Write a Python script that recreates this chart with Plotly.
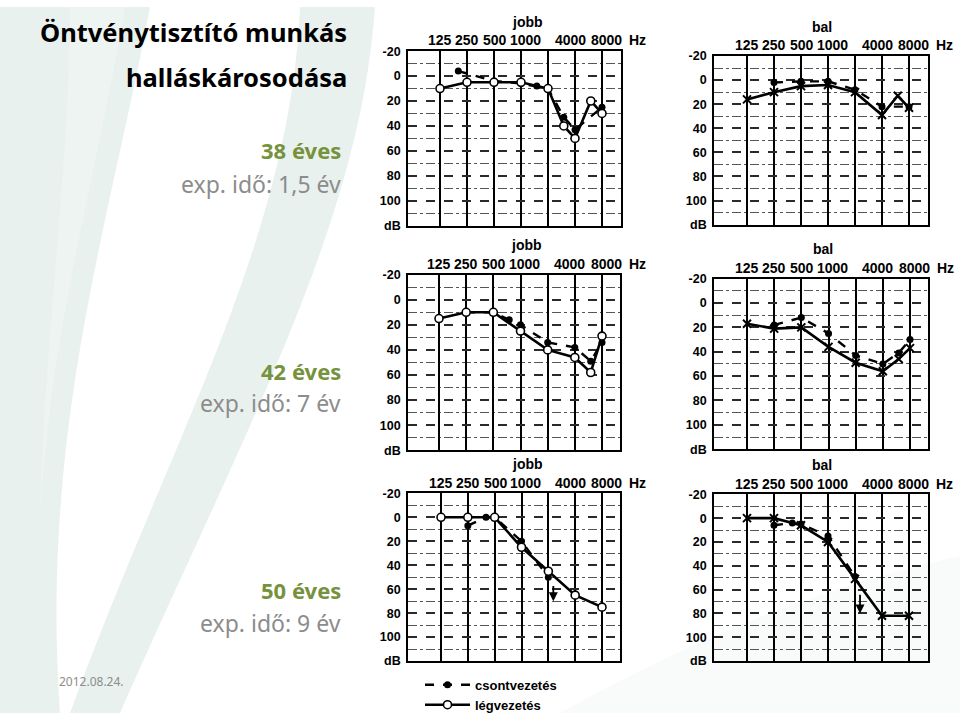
import math
import plotly.graph_objects as go

# ---------------- data ----------------
FREQ_TICKS = [125, 250, 500, 1000, 2000, 4000, 8000]
FREQ_LABELS = ["125", "250", "500", "1000", "", "4000", "8000"]
DB_TICKS = [-20, 0, 20, 40, 60, 80, 100, 120]
DB_LABELS = ["-20", "0", "20", "40", "60", "80", "100", "dB"]

# 38 éves, jobb
p1_air_f = [125, 250, 500, 1000, 2000, 3000, 4000, 6000, 8000]
p1_air_db = [10, 5, 5, 5, 10, 40, 50, 20, 30]
p1_bone_f = [200, 500, 1000, 1500, 2000, 3000, 4000, 8000]
p1_bone_db = [-4, 4, 6, 8, 10, 33, 43, 25]
# 38 éves, bal
p2_air_f = [125, 250, 500, 1000, 2000, 4000, 6000, 8000]
p2_air_db = [16, 10, 5, 4, 10, 29, 13, 23]
p2_bone_f = [250, 500, 1000, 2000, 4000, 8000]
p2_bone_db = [2, 1, 1, 8, 22, 22]
# 42 éves, jobb
p3_air_f = [125, 250, 500, 1000, 2000, 4000, 6000, 8000]
p3_air_db = [15, 10, 10, 25, 40, 46, 58, 29]
p3_bone_f = [250, 500, 750, 1000, 2000, 4000, 6000, 8000]
p3_bone_db = [10, 10, 16, 20, 34, 38, 49, 34]
# 42 éves, bal
p4_air_f = [125, 250, 500, 1000, 2000, 4000, 6000, 8000]
p4_air_db = [17, 21, 20, 36, 49, 56, 46, 37]
p4_bone_f = [250, 500, 1000, 2000, 4000, 6000, 8000]
p4_bone_db = [18, 12, 25, 43, 50, 41, 30]
# 50 éves, jobb
p5_air_f = [125, 250, 500, 1000, 2000, 4000, 8000]
p5_air_db = [0, 0, 0, 25, 45, 65, 75]
p5_bone_f = [250, 400, 500, 1000, 2000]
p5_bone_db = [7, 0, 0, 20, 50]
p5_arrow_f = 2275
p5_arrow_db = [56, 70]
# 50 éves, bal
p6_air_f = [125, 250, 500, 1000, 2000, 4000, 8000]
p6_air_db = [0, 0, 6, 20, 51, 82, 82]
p6_bone_f = [250, 400, 500, 1000, 2000]
p6_bone_db = [6, 4, 5, 15, 49]
p6_arrow_f = 2275
p6_arrow_db = [63, 80]

SIDE_TITLES = ["jobb", "bal", "jobb", "bal", "jobb", "bal"]
AGE_LABELS = ["38 éves", "42 éves", "50 éves"]
EXP_LABELS = ["exp. idő: 1,5 év", "exp. idő: 7 év", "exp. idő: 9 év"]
TITLE_LINES = ["Öntvénytisztító munkás", "halláskárosodása"]
DATE_LABEL = "2012.08.24."
LEGEND_NAMES = ["csontvezetés", "légvezetés"]

# ---------------- layout geometry (pixels) ----------------
W, H = 960, 720
# (left, right, top, bottom, px of 125 line, px of 8000 line)
PANELS = [
    (408, 621, 45, 223, 440, 602),
    (714, 928, 50, 222, 747, 909),
    (408, 620, 273, 452, 439, 602),
    (714, 928, 277, 451, 747, 910),
    (408, 620, 496, 667, 441, 602),
    (714, 928, 497, 667, 747, 909),
]
# horizontal nudge of the printed frequency labels (px), as on the scanned form
LABEL_SHIFT = [0, 0, 1, 4, 0, -5, 4]

def px_x(v):
    return v / W

def px_y(v):
    return 1 - v / H

data_sets = [
    (p1_air_f, p1_air_db, p1_bone_f, p1_bone_db),
    (p2_air_f, p2_air_db, p2_bone_f, p2_bone_db),
    (p3_air_f, p3_air_db, p3_bone_f, p3_bone_db),
    (p4_air_f, p4_air_db, p4_bone_f, p4_bone_db),
    (p5_air_f, p5_air_db, p5_bone_f, p5_bone_db),
    (p6_air_f, p6_air_db, p6_bone_f, p6_bone_db),
]

fig = go.Figure()
AXFONT = dict(family="Liberation Sans", size=12.5, color="black", weight="bold")
XFONT = dict(family="Liberation Sans", size=14, color="black", weight="bold")
layout = {}
annotations = []

for i, (pl, pr, pt, pb, c125, c8000) in enumerate(PANELS):
    n = i + 1
    xa = "x" if n == 1 else f"x{n}"
    ya = "y" if n == 1 else f"y{n}"
    air_f, air_db, bone_f, bone_db = data_sets[i]
    is_right = (i % 2 == 0)  # 'jobb' panels in left column
    ppo = (c8000 - c125) / 6.0
    lo = math.log10(125) - (c125 - pl) / ppo * math.log10(2)
    hi = math.log10(8000) + (pr - c8000) / ppo * math.log10(2)

    # bone conduction
    fig.add_trace(go.Scatter(
        x=bone_f, y=bone_db, xaxis=xa, yaxis=ya, mode="lines+markers",
        line=dict(color="black", width=2.4, dash="dash"),
        marker=dict(symbol="circle", size=7, color="black"),
        name=LEGEND_NAMES[0], showlegend=(n == 1), legendrank=1,
    ))
    # air conduction
    if is_right:
        mk = dict(symbol="circle", size=8, color="white", line=dict(color="black", width=1.6))
    else:
        mk = dict(symbol="x-thin", size=8, color="black", line=dict(color="black", width=2))
    fig.add_trace(go.Scatter(
        x=air_f, y=air_db, xaxis=xa, yaxis=ya, mode="lines+markers",
        line=dict(color="black", width=2.6),
        marker=mk,
        name=LEGEND_NAMES[1], showlegend=(n == 1), legendrank=2,
    ))

    xkey = "xaxis" if n == 1 else f"xaxis{n}"
    ykey = "yaxis" if n == 1 else f"yaxis{n}"
    layout[xkey] = dict(
        type="log", range=[lo, hi], domain=[px_x(pl), px_x(pr)], anchor=ya,
        side="top", tickvals=FREQ_TICKS, ticktext=FREQ_LABELS, showticklabels=False,
        ticks="",
        showgrid=True, gridcolor="black", gridwidth=2,
        showline=True, mirror=True, linecolor="black", linewidth=1.6,
        zeroline=False, fixedrange=True,
    )
    layout[ykey] = dict(
        range=[120, -20], domain=[px_y(pb), px_y(pt)], anchor=xa,
        tickvals=DB_TICKS, ticktext=DB_LABELS, tickfont=AXFONT,
        ticks="outside", ticklen=3, tickcolor="rgba(0,0,0,0)",
        showgrid=True, gridcolor="#2a2a2a", gridwidth=1.6, griddash="dash",
        minor=dict(tickvals=[-10, 10, 30, 50, 70, 90, 110], showgrid=True,
                   gridcolor="#555555", gridwidth=1, griddash="dashdot", ticks=""),
        showline=True, mirror=True, linecolor="black", linewidth=1.6,
        zeroline=False, fixedrange=True,
    )
    # frequency labels printed above the grid
    for f, lab, sh in zip(FREQ_TICKS, FREQ_LABELS, LABEL_SHIFT):
        if not lab:
            continue
        annotations.append(dict(
            text=lab, xref=xa, yref="paper", x=math.log10(f), y=px_y(pt - 11),
            xshift=sh, xanchor="center", yanchor="middle", showarrow=False, font=XFONT,
        ))
    annotations.append(dict(
        text="Hz", xref="paper", yref="paper",
        x=px_x(c8000 + 25), y=px_y(pt - 11), xanchor="left", yanchor="middle",
        showarrow=False, font=XFONT,
    ))
    # panel title
    annotations.append(dict(
        text=SIDE_TITLES[i], xref="paper", yref="paper",
        x=px_x((c125 + c8000) / 2 + 6), y=px_y(pt - 30),
        showarrow=False, font=dict(family="Liberation Sans", size=14, color="black", weight="bold"),
        yanchor="middle",
    ))

# "no response" arrows
for n, af, adb in [(5, p5_arrow_f, p5_arrow_db), (6, p6_arrow_f, p6_arrow_db)]:
    annotations.append(dict(
        x=math.log10(af), y=adb[1], ax=math.log10(af), ay=adb[0],
        xref=f"x{n}", yref=f"y{n}", axref=f"x{n}", ayref=f"y{n}",
        showarrow=True, arrowhead=2, arrowsize=1, arrowwidth=1.8, arrowcolor="black", text="",
    ))

# left-hand texts
TFONT = dict(family="Noto Sans", size=25.5, color="black", weight="bold")
annotations.append(dict(text=TITLE_LINES[0], xref="paper", yref="paper", x=px_x(349), y=px_y(26),
                        xanchor="right", yanchor="middle", showarrow=False, font=TFONT))
annotations.append(dict(text=TITLE_LINES[1], xref="paper", yref="paper", x=px_x(349), y=px_y(71),
                        xanchor="right", yanchor="middle", showarrow=False, font=TFONT))
for k, (ay, ey) in enumerate([(146, 180), (371, 404), (595, 628)]):
    annotations.append(dict(text=AGE_LABELS[k], xref="paper", yref="paper", x=px_x(343), y=px_y(ay),
                            xanchor="right", yanchor="middle", showarrow=False,
                            font=dict(family="Noto Sans", size=22, color="#76923C", weight="bold")))
    annotations.append(dict(text=EXP_LABELS[k], xref="paper", yref="paper", x=px_x(343), y=px_y(ey),
                            xanchor="right", yanchor="middle", showarrow=False,
                            font=dict(family="Noto Sans", size=23, color="#8C8C8C")))
annotations.append(dict(text=DATE_LABEL, xref="paper", yref="paper", x=px_x(57), y=px_y(688),
                        xanchor="left", yanchor="middle", showarrow=False,
                        font=dict(family="Noto Sans", size=12, color="#8C8C8C")))

# decorative background swirls
def path(points):
    s = ""
    for cmd, pts in points:
        s += cmd + " " + " ".join(f"{px_x(a):.4f},{px_y(b):.4f}" for a, b in pts) + " "
    return s + "Z"

shapes = [
    dict(type="path", xref="paper", yref="paper", layer="below", line=dict(width=0),
         fillcolor="rgba(215,229,225,0.55)",
         path=path([("M", [(0, 0)]), ("L", [(150, 0)]),
                    ("C", [(110, 220), (40, 430), (60, 720)]), ("L", [(0, 720)])])),
    dict(type="path", xref="paper", yref="paper", layer="below", line=dict(width=0),
         fillcolor="rgba(238,244,242,0.9)",
         path=path([("M", [(70, 0)]), ("L", [(125, 0)]),
                    ("C", [(95, 180), (50, 330), (40, 520)]), ("C", [(45, 330), (70, 160), (70, 0)])])),
    dict(type="path", xref="paper", yref="paper", layer="below", line=dict(width=0),
         fillcolor="rgba(200,220,214,0.4)",
         path=path([("M", [(300, 0)]), ("L", [(375, 0)]),
                    ("C", [(360, 220), (250, 420), (120, 720)]), ("L", [(70, 720)]),
                    ("C", [(170, 440), (290, 240), (300, 0)])])),
    dict(type="path", xref="paper", yref="paper", layer="below", line=dict(width=0),
         fillcolor="rgba(232,242,239,0.3)",
         path=path([("M", [(560, 720)]), ("C", [(700, 640), (840, 585), (960, 560)]),
                    ("L", [(960, 720)])])),
]

fig.update_layout(
    width=W, height=H, margin=dict(l=0, r=0, t=0, b=0),
    paper_bgcolor="white", plot_bgcolor="white",
    annotations=annotations, shapes=shapes,
    legend=dict(x=px_x(420), y=px_y(676), xanchor="left", yanchor="top",
                bgcolor="rgba(0,0,0,0)", tracegroupgap=0, itemwidth=45,
                font=dict(family="Liberation Sans", size=13, color="black", weight="bold")),
    **layout,
)

fig.write_html("out.html")
